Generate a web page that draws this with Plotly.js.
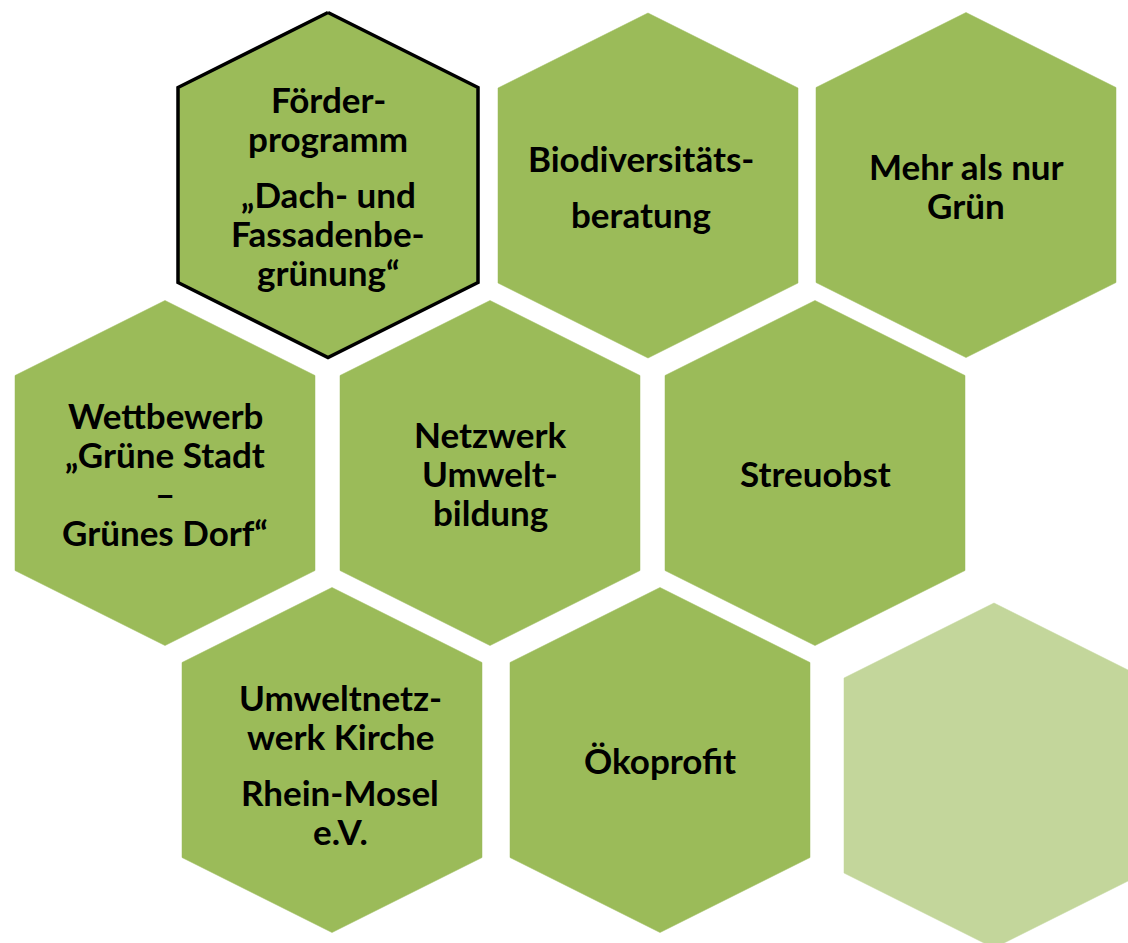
<!DOCTYPE html>
<html>
<head>
<meta charset="utf-8">
<script src="https://cdn.plot.ly/plotly-3.0.1.min.js"></script>
<style>html,body{margin:0;padding:0;background:#fff}#chart{width:1128px;height:943px}</style>
</head>
<body>
<div id="chart"></div>
<script>
// Hexagon tiles: labels (paragraphs, each a list of lines), centre positions, fill colours
const labels = [
  [["Förder-", "programm"], ["„Dach- und", "Fassadenbe-", "grünung“"]],
  [["Biodiversitäts-"], ["beratung"]],
  [["Mehr als nur", "Grün"]],
  [["Wettbewerb", "„Grüne Stadt", "–", "Grünes Dorf“"]],
  [["Netzwerk", "Umwelt-", "bildung"]],
  [["Streuobst"]],
  [["Umweltnetz-", "werk Kirche"], ["Rhein-Mosel", "e.V."]],
  [["Ökoprofit"]],
  []
];
const centerX = [328, 648, 966, 165, 490, 815, 332, 660, 994];
const centerY = [185, 185.5, 185, 473, 473, 473, 760, 760, 775.5];
const textDX  = [0, -7, 0, 0, 0, 0, 8, 0, 0];
const textDY  = [0, 0, 0, 0, 0, 0, 4, 0, 0];
const fills   = ["#9BBB59", "#9BBB59", "#9BBB59", "#9BBB59", "#9BBB59", "#9BBB59", "#9BBB59", "#9BBB59", "#C3D69B"];
const outlined = [true, false, false, false, false, false, false, false, false];

const HW = 150, HH = 172.5, SV = 97.5;   // half width, half height, side vertex offset
const LINE = 39, PARA = 17, FONT = 35;

const traces = [];
centerX.forEach((cx, i) => {
  const cy = centerY[i];
  const xs = [cx, cx + HW, cx + HW, cx, cx - HW, cx - HW, cx];
  const ys = [cy - HH, cy - SV, cy + SV, cy + HH, cy + SV, cy - SV, cy - HH];
  traces.push({
    type: "scatter", mode: "lines", x: xs, y: ys,
    fill: "toself", fillcolor: fills[i],
    line: outlined[i] ? {color: "#000000", width: 3.5} : {color: fills[i], width: 0.5},
    hoverinfo: "skip", showlegend: false
  });
});

const annotations = [];
labels.forEach((paras, i) => {
  const pos = [];
  let y = 0;
  paras.forEach((p, pi) => {
    if (pi > 0) y += PARA;
    p.forEach((line, li) => {
      if (pi > 0 || li > 0) y += LINE;
      pos.push({t: line, y: y});
    });
  });
  if (!pos.length) return;
  const total = pos[pos.length - 1].y;
  pos.forEach(o => {
    annotations.push({
      x: centerX[i] + textDX[i], y: centerY[i] + textDY[i] + o.y - total / 2,
      xref: "x", yref: "y", text: "<b>" + o.t + "</b>", showarrow: false,
      xanchor: "center", yanchor: "middle",
      font: {family: "Lato, 'Open Sans', sans-serif", size: FONT, color: "#000000"}
    });
  });
});

const layout = {
  width: 1128, height: 943,
  margin: {l: 0, r: 0, t: 0, b: 0},
  paper_bgcolor: "#ffffff", plot_bgcolor: "#ffffff",
  xaxis: {range: [0, 1128], visible: false, fixedrange: true},
  yaxis: {range: [943, 0], visible: false, fixedrange: true},
  annotations: annotations,
  showlegend: false
};

Plotly.newPlot("chart", traces, layout, {displayModeBar: false, staticPlot: true});
</script>
</body>
</html>
